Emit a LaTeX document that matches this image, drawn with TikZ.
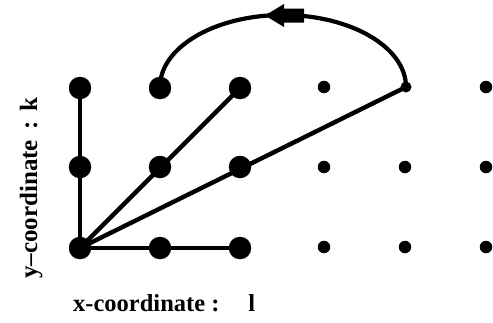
\documentclass[tikz,border=0pt]{standalone}
\usepackage{fontspec}
\setmainfont{Liberation Serif}
\begin{document}
\begin{tikzpicture}[x=1pt,y=-1pt,
  bigdot/.style={circle,fill=black,inner sep=0pt,minimum size=22.5pt},
  smalldot/.style={circle,fill=black,inner sep=0pt,minimum size=12.5pt},
  link/.style={line width=4.4pt,line cap=round},
  lbl/.style={font=\fontsize{24.5}{28}\selectfont\bfseries,inner sep=0pt}]
\useasboundingbox (0,0) rectangle (493,322);
% big dots (3x3)
\node[bigdot] (a1) at (80,88) {};
\node[bigdot] (b1) at (160,88) {};
\node[bigdot] (c1) at (240,88) {};
\node[bigdot] (a2) at (80,167) {};
\node[bigdot] (b2) at (160,167) {};
\node[bigdot] (c2) at (240,167) {};
\node[bigdot] (a3) at (80,248) {};
\node[bigdot] (b3) at (160,248) {};
\node[bigdot] (c3) at (240,248) {};
% small dots
\node[smalldot] (d1) at (324,87) {};
\node[smalldot,minimum size=11pt] (e1) at (406,87) {};
\node[smalldot] (f1) at (486,87) {};
\node[smalldot] (d2) at (324,167) {};
\node[smalldot] (e2) at (405,167) {};
\node[smalldot] (f2) at (486,167) {};
\node[smalldot] (d3) at (324,247) {};
\node[smalldot] (e3) at (405,247) {};
\node[smalldot] (f3) at (486,247) {};
% links
\draw[link] (a3.center) -- (a1.center);
\draw[link] (a3.center) -- (c3.center);
\draw[link] (a3.center) -- (c1.center);
\draw[link] (a3.center) -- (e1.center);
% arc
\draw[line width=4.2pt] (e1.center) arc[start angle=0,end angle=180,x radius=123pt,y radius=72pt];
% arrow head on arc
\fill (265,15.5) -- (284,4) -- (284,8.5) -- (304,8.5) -- (304,22.5) -- (284,22.5) -- (284,27) -- cycle;
% labels
\node[lbl,anchor=base west] (xl) at (73,311) {x-coordinate :\hspace{29pt}l};
\node[lbl,rotate=90,anchor=base west,font=\fontsize{25}{28}\selectfont\bfseries] (yl) at (37,279) {y–coordinate\hspace{10pt}:\hspace{10pt}k};
\end{tikzpicture}
\end{document}
